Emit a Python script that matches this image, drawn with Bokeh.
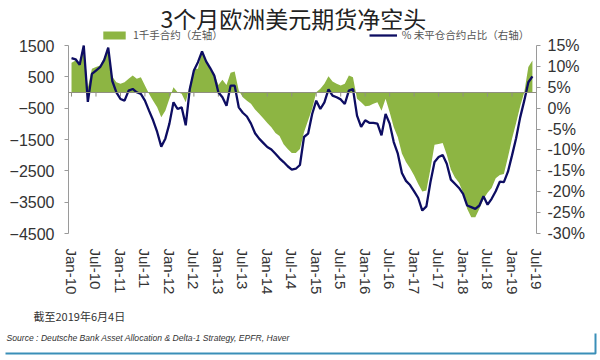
import pandas as pd
from bokeh.plotting import figure
from bokeh.models import (Range1d, LinearAxis, FixedTicker, PrintfTickFormatter,
                          Legend, LegendItem, Span, Label)
from bokeh.layouts import column
from bokeh.embed import file_html
from bokeh.resources import INLINE
from bokeh.core.properties import value

# ---- data (monthly, Jan-2010 .. Jun-2019) ----
months = [str(p) for p in pd.period_range("2010-01", "2019-06", freq="M")]

# net position, thousand contracts (left axis)
contracts_k = [
    950, 1020, 920, 1500, 150, 760, 810, 860, 1100, 1400,
    500, 330, 280, 330, 440, 540, 440, 490, 220, -40,
    -260, -470, -790, -580, -200, 170, 10, -40, -310, 220,
    760, 760, 1340, 1020, 760, 600, 240, 410, 240, 630,
    670, 60, -150, -260, -360, -540, -680, -820, -970, -1110,
    -1290, -1390, -1650, -1800, -1930, -1930, -1800, -1270, -890, -520,
    10, 120, 280, 520, 350, 280, 220, 280, 540, 490,
    -200, -310, -440, -420, -360, -310, -580, -200, -630, -1110,
    -1430, -1950, -2220, -2420, -2650, -2920, -3160, -3130, -2440, -1670,
    -1640, -1610, -1990, -2460, -2710, -2880, -3200, -3710, -3980, -3980,
    -3710, -3400, -3200, -3050, -2740, -2630, -2600, -2070, -1480, -970,
    -440, 10, 810, 1020,
]

# % of open interest (right axis)
open_interest_pct = [
    12.0, 11.7, 10.4, 15.0, 1.5, 8.2, 9.0, 9.8, 11.5, 14.5,
    6.5, 3.8, 2.2, 1.8, 4.2, 4.6, 3.8, 3.4, 1.8, -0.6,
    -2.9, -5.7, -9.2, -7.3, -3.7, 1.4, -0.2, 0.2, -4.1, 4.6,
    9.0, 11.0, 13.6, 11.2, 9.6, 7.8, 3.8, 2.6, 0.6, 5.4,
    5.4, 0.2, -1.1, -2.0, -3.7, -6.0, -7.3, -8.3, -9.3, -9.9,
    -10.9, -12.0, -12.9, -13.9, -14.7, -14.5, -13.6, -6.9, -6.1, -1.4,
    1.8, -0.2, 1.4, 4.5, 3.0, 2.6, 2.1, 1.0, 4.2, 4.6,
    -1.8, -4.5, -2.9, -3.5, -3.5, -3.7, -6.5, -1.4, -3.7, -8.1,
    -10.9, -15.5, -17.4, -18.4, -19.9, -21.5, -24.5, -23.5, -17.7, -12.9,
    -11.7, -11.2, -13.3, -17.1, -18.1, -19.1, -20.5, -23.3, -23.7, -24.1,
    -23.3, -21.1, -23.1, -21.7, -19.9, -17.6, -17.7, -15.2, -11.3, -7.2,
    -2.2, 1.8, 6.2, 7.6,
]

tick_labels = ["Jan-10", "Jul-10", "Jan-11", "Jul-11", "Jan-12", "Jul-12", "Jan-13",
               "Jul-13", "Jan-14", "Jul-14", "Jan-15", "Jul-15", "Jan-16", "Jul-16",
               "Jan-17", "Jul-17", "Jan-18", "Jul-18", "Jan-19", "Jul-19"]
left_ticks = [1500, 500, -500, -1500, -2500, -3500, -4500]
right_ticks = [15, 10, 5, 0, -5, -10, -15, -20, -25, -30]

title_text = "3个月欧洲美元期货净空头"
legend_left = "1千手合约（左轴）"
legend_right = "% 未平仓合约占比（右轴）"
note_text = "截至2019年6月4日"
source_text = "Source : Deutsche Bank Asset Allocation & Delta-1 Strategy, EPFR, Haver"

# ---- derived positions ----
x = list(range(len(months)))
tick_pos = [6 * i for i in range(len(tick_labels))]

GREEN = "#8db543"
NAVY = "#0d0d62"
AXIS = "#9a9a9a"
LBL = "#333333"

# frame extends 45px above the axes' top to host the title and legend
HEAD = 45
L_LO, L_HI = left_ticks[-1], left_ticks[0]
R_LO, R_HI = right_ticks[-1], right_ticks[0]
axis_px = 188
l_top = L_HI + HEAD * (L_HI - L_LO) / axis_px
r_top = R_HI + HEAD * (R_HI - R_LO) / axis_px

p = figure(width=600, height=300, output_backend="svg", toolbar_location=None,
           x_range=Range1d(-0.74, 114), y_range=Range1d(L_LO, l_top),
           min_border_left=68, min_border_right=64, min_border_top=0,
           min_border_bottom=67)
p.frame_align = False
p.outline_line_color = None
p.grid.visible = False
p.background_fill_color = "white"
p.border_fill_color = "white"
p.extra_y_ranges = {"pct": Range1d(R_LO, r_top)}

area = p.varea(x=x, y1=0, y2=contracts_k, fill_color=GREEN, fill_alpha=1)
p.add_layout(Span(location=0, dimension="width", line_color="#8f8f80", line_width=1))
p.segment(x0=tick_pos, y0=[0] * len(tick_pos), x1=tick_pos, y1=[-130] * len(tick_pos),
          line_color="#8f8f80", line_width=1)
line = p.line(x=x, y=open_interest_pct, y_range_name="pct",
              line_color=NAVY, line_width=2.3)

# x axis
xa = p.xaxis[0]
xa.ticker = FixedTicker(ticks=tick_pos)
xa.major_label_overrides = {t: l for t, l in zip(tick_pos, tick_labels)}
xa.major_label_orientation = "vertical"
xa.axis_line_color = None
xa.major_tick_line_color = None
xa.minor_tick_line_color = None
xa.major_label_standoff = 9
xa.major_label_text_font = "Liberation Sans"
xa.major_label_text_font_size = "15px"
xa.major_label_text_color = LBL

# left axis
ya = p.yaxis[0]
ya.ticker = FixedTicker(ticks=left_ticks)
ya.bounds = (L_LO, L_HI)
ya.axis_line_color = AXIS
ya.major_tick_line_color = AXIS
ya.major_tick_in = 0
ya.major_tick_out = 4
ya.minor_tick_line_color = None
ya.major_label_standoff = 10
ya.major_label_text_font = "Liberation Sans"
ya.major_label_text_font_size = "16px"
ya.major_label_text_color = LBL

# right axis
ra = LinearAxis(y_range_name="pct", ticker=FixedTicker(ticks=right_ticks),
                formatter=PrintfTickFormatter(format="%d%%"), bounds=(R_LO, R_HI))
ra.axis_line_color = AXIS
ra.major_tick_line_color = AXIS
ra.major_tick_in = 0
ra.major_tick_out = 4
ra.minor_tick_line_color = None
ra.major_label_standoff = 7
ra.major_label_text_font = "Liberation Sans"
ra.major_label_text_font_size = "16px"
ra.major_label_text_color = LBL
p.add_layout(ra, "right")

# legend (top strip of the frame)
leg = Legend(items=[LegendItem(label=legend_left, renderers=[area]),
                    LegendItem(label=legend_right, renderers=[line])],
             orientation="horizontal", location=(32, 191), padding=0, margin=0,
             spacing=146, border_line_color=None, background_fill_alpha=0,
             glyph_height=10, glyph_width=28, label_height=10, label_standoff=5,
             label_text_font="Noto Sans CJK SC", label_text_font_size="10.5px",
             label_text_color="#555555")
p.add_layout(leg)

# title (top strip of the frame)
p.add_layout(Label(x=92, y=216, x_units="screen", y_units="screen", text=title_text,
                   text_align="left", text_baseline="middle",
                   text_font="Noto Sans CJK SC", text_font_size="23px",
                   text_color="#222222"))

# footer
f = figure(width=600, height=60, output_backend="svg", toolbar_location=None,
           x_range=Range1d(0, 600), y_range=Range1d(60, 0),
           x_axis_location=None, y_axis_location=None, min_border=0)
f.frame_align = False
f.outline_line_color = None
f.grid.visible = False
f.text(x=[33], y=[15], text=[note_text], text_font=value("Noto Sans CJK SC"),
       text_font_size="11px", text_baseline="middle", text_color="#333333")
f.text(x=[6], y=[37], text=[source_text], text_font=value("Liberation Sans"),
       text_font_style="italic", text_font_size="8.6px", text_baseline="middle",
       text_color="#333333")
f.line(x=[5, 595, 595], y=[53, 53, 33], line_color="#3a8fb8", line_width=2)

layout = column(p, f, spacing=0)
open("out.html", "w").write(file_html(layout, INLINE))
